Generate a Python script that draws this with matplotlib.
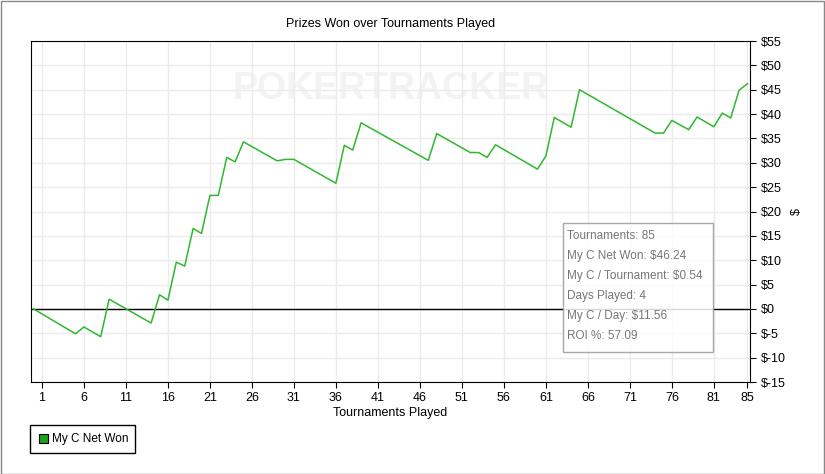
import matplotlib
matplotlib.use("Agg")
import matplotlib.pyplot as plt
from matplotlib.patches import Rectangle

plt.rcParams['font.family'] = ['Liberation Sans', 'DejaVu Sans']

tournaments = [0, 5, 6, 8, 9, 14, 15, 16, 17, 18, 19, 20, 21, 22, 23, 24, 25, 29, 30, 31, 36, 37, 38, 39,
               47, 48, 52, 53, 54, 55, 60, 61, 62, 64, 65, 74, 75, 76, 78, 79, 81, 82, 83, 84, 85]
net_won = [0, -5.1, -3.7, -5.7, 2.0, -2.9, 2.9, 1.8, 9.6, 8.8, 16.5, 15.5, 23.3, 23.3, 31.1, 30.2, 34.3,
           30.4, 30.7, 30.7, 25.8, 33.6, 32.6, 38.2, 30.5, 36.0, 32.1, 32.1, 31.1, 33.7, 28.7, 31.4,
           39.3, 37.3, 45.0, 36.1, 36.1, 38.7, 36.8, 39.4, 37.4, 40.2, 39.2, 44.9, 46.24]
xticks = [1, 6, 11, 16, 21, 26, 31, 36, 41, 46, 51, 56, 61, 66, 71, 76, 81, 85]
yticks = list(range(-15, 60, 5))
info = ["Tournaments: 85", "My C Net Won: $46.24", "My C / Tournament: $0.54",
        "Days Played: 4", "My C / Day: $11.56", "ROI %: 57.09"]

W, H = 825, 474
fig = plt.figure(figsize=(W/100, H/100), dpi=100)
fig.patches.append(Rectangle((0.001, 0.001), 0.998, 0.997, transform=fig.transFigure,
                             fill=False, edgecolor="#888888", lw=1))
ax = fig.add_axes([31/W, 1-382/H, (750-31)/W, (382-41)/H])
ax.set_xlim(-0.3, 85.3)
ax.set_ylim(-15, 55)
ax.set_xticks(xticks)
ax.set_yticks(yticks)
ax.set_yticklabels([f"${v}" if v >= 0 else f"$-{-v}" for v in yticks])
ax.yaxis.tick_right()
ax.yaxis.set_label_position("right")
ax.tick_params(labelsize=9, length=4)
ax.grid(True, color="#ebebeb", lw=1)
ax.set_axisbelow(True)
for s in ax.spines.values():
    s.set_color("black")
ax.axhline(0, color="black", lw=1)
ax.text(0.5, 0.86, "POKERTRACKER", transform=ax.transAxes, ha="center", va="center",
        fontsize=27, color="#f3f3f3", fontweight="bold", zorder=0)
ax.plot(tournaments, net_won, color="#2eb82e", lw=1.1)
ax.set_title("Prizes Won over Tournaments Played", fontsize=9, pad=10)
ax.set_xlabel("Tournaments Played", fontsize=9, labelpad=2)
ax.set_ylabel("$", fontsize=9, labelpad=4)

ax.add_patch(Rectangle((563/W, 1-352/H), (713-563)/W, (352-223)/H, transform=fig.transFigure,
                       facecolor="white", edgecolor="#999999", lw=1, alpha=0.85, zorder=5))
for i, t in enumerate(info):
    fig.text(567/W, 1-(236+i*20)/H, t, fontsize=8.5, color="#777777", va="center", zorder=6)

fig.patches.append(Rectangle((30/W, 1-453/H), (135-30)/W, (453-425)/H, transform=fig.transFigure,
                             fill=False, edgecolor="black", lw=1))
fig.patches.append(Rectangle((39/W, 1-443/H), 9/W, 9/H, transform=fig.transFigure,
                             facecolor="#1aa31a", edgecolor="black", lw=0.8))
fig.text(52/W, 1-439/H, "My C Net Won", fontsize=8.5, va="center")

fig.savefig("out.png", dpi=100)
